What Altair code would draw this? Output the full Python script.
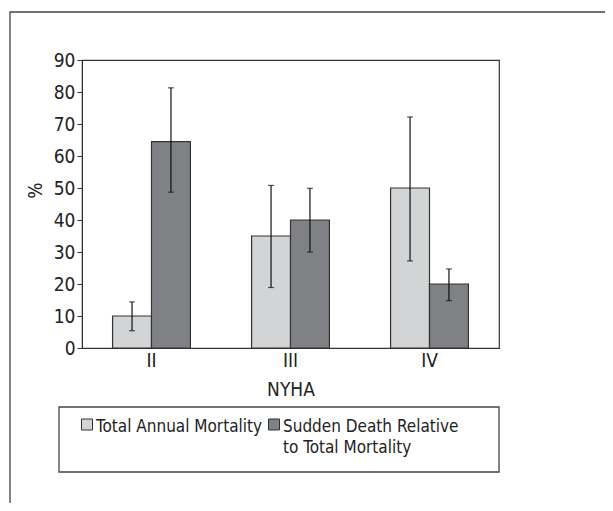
import altair as alt
import pandas as pd

categories = ["II", "III", "IV"]
series = ["Total Annual Mortality", "Sudden Death Relative to Total Mortality"]
legend_labels = ["Total Annual Mortality", "Sudden Death Relative\nto Total Mortality"]
total_vals = [10, 35, 50]
total_lo = [5.4, 18.9, 27.2]
total_hi = [14.4, 50.8, 72.2]
sudden_vals = [64.5, 40, 20]
sudden_lo = [48.7, 30, 14.8]
sudden_hi = [81.3, 49.9, 24.7]
y_ticks = [0, 10, 20, 30, 40, 50, 60, 70, 80, 90]
colors = ["#d3d4d6", "#808184"]

rows = []
for i, c in enumerate(categories):
    rows.append({"NYHA": c, "series": series[0], "v": total_vals[i], "lo": total_lo[i], "hi": total_hi[i]})
    rows.append({"NYHA": c, "series": series[1], "v": sudden_vals[i], "lo": sudden_lo[i], "hi": sudden_hi[i]})
df = pd.DataFrame(rows)

FONT = "DejaVu Sans Condensed"

color = alt.Color("series:N", sort=series, scale=alt.Scale(domain=series, range=colors), legend=None)

x = alt.X("NYHA:N", sort=categories, title="NYHA",
          scale=alt.Scale(paddingInner=0.44, paddingOuter=0.22),
          axis=alt.Axis(labelAngle=0, ticks=False, labelFontSize=19, titleFontSize=19,
                        titleFontWeight="normal", labelPadding=3, titlePadding=10,
                        domainColor="#333", labelColor="#222", titleColor="#222"))
xo = alt.XOffset("series:N", sort=series)
yaxis = alt.Axis(values=y_ticks, tickCount=10, grid=False, tickSize=5, labelFontSize=19,
                 labelOverlap=False, titleFontSize=19, titleFontWeight="normal",
                 labelPadding=2, titleX=-37, titleY=130,
                 domainColor="#333", tickColor="#333", labelColor="#222", titleColor="#222")
yscale = alt.Scale(domain=[0, 90])

def Y(field):
    return alt.Y(field, title="%", scale=yscale, axis=yaxis)

base = alt.Chart(df)

frame = alt.Chart(pd.DataFrame({"a": [0]})).mark_rect(fill="transparent", stroke="#444", strokeWidth=1.3).encode(
    x=alt.value(-72), x2=alt.value(640), y=alt.value(-48), y2=alt.value(560))

legbox = alt.Chart(pd.DataFrame({"a": [0]})).mark_rect(fill="transparent", stroke="#444", strokeWidth=1.3).encode(
    x=alt.value(-23), x2=alt.value(417), y=alt.value(347), y2=alt.value(412))

bars = base.mark_bar(stroke="#333", strokeWidth=1.2).encode(x=x, xOffset=xo, y=Y("v:Q"), color=color)

rules = base.mark_rule(color="#111", strokeWidth=1.2).encode(
    x=x, xOffset=xo, y=Y("lo:Q"), y2="hi:Q")
caps_hi = base.mark_tick(color="#111", thickness=1.2, size=6).encode(x=x, xOffset=xo, y=Y("hi:Q"))
caps_lo = base.mark_tick(color="#111", thickness=1.2, size=6).encode(x=x, xOffset=xo, y=Y("lo:Q"))

leg_layers = []
sym_x = [5, 192]
for i in range(2):
    d = pd.DataFrame({"series": [series[i]], "label": [legend_labels[i]]})
    leg_layers.append(alt.Chart(d).mark_square(size=121, opacity=1, stroke="#333", strokeWidth=1).encode(
        x=alt.value(sym_x[i]), y=alt.value(364.5), color=color))
    leg_layers.append(alt.Chart(d).mark_text(align="left", baseline="alphabetic", fontSize=17,
                                             lineBreak="\n", lineHeight=21, color="#222", font=FONT).encode(
        x=alt.value(sym_x[i] + 9), y=alt.value(372), text="label:N"))

chart = alt.layer(bars, rules, caps_hi, caps_lo, frame, legbox, *leg_layers).properties(
    width=417, height=288,
    autosize=alt.AutoSizeParams(type="none"),
    padding={"left": 74, "top": 52, "right": 106, "bottom": 155},
).configure(font=FONT).configure_view(stroke="#333", strokeWidth=1.2)

chart.save("out.html", embed_options={"renderer": "svg", "actions": False})
